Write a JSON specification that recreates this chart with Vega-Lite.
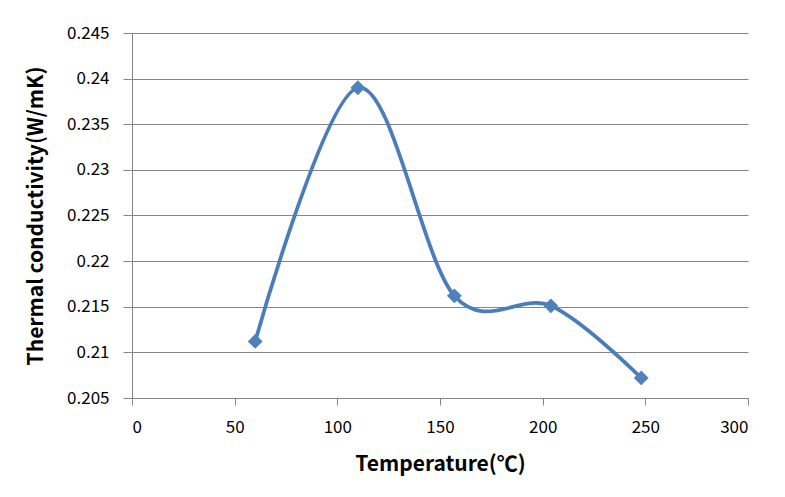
{
  "$schema": "https://vega.github.io/schema/vega-lite/v6.json",
  "width": 616,
  "height": 365,
  "autosize": {"type": "none"},
  "padding": {"left": 132, "top": 33, "right": 37, "bottom": 99},
  "background": "white",
  "config": {
    "view": {"stroke": null},
    "font": "Noto Sans CJK KR"
  },
  "data": {
    "values": [
      {"temperature": 60, "conductivity": 0.2112},
      {"temperature": 110, "conductivity": 0.2390},
      {"temperature": 157, "conductivity": 0.2162},
      {"temperature": 204, "conductivity": 0.2151},
      {"temperature": 248, "conductivity": 0.2072}
    ]
  },
  "encoding": {
    "x": {
      "field": "temperature",
      "type": "quantitative",
      "scale": {"domain": [0, 300], "nice": false, "zero": false},
      "axis": {
        "title": "Temperature(℃)",
        "values": [0, 50, 100, 150, 200, 250, 300],
        "grid": false,
        "domainColor": "#868686",
        "tickColor": "#868686",
        "tickSize": 7,
        "labelFontSize": 17,
        "labelColor": "#000000",
        "labelPadding": 14,
        "titleFontSize": 21,
        "titleFontWeight": "bold",
        "titleColor": "#000000",
        "titlePadding": 18
      }
    },
    "y": {
      "field": "conductivity",
      "type": "quantitative",
      "scale": {"domain": [0.205, 0.245], "nice": false, "zero": false},
      "axis": {
        "title": "Thermal conductivity(W/mK)",
        "values": [0.205, 0.21, 0.215, 0.22, 0.225, 0.23, 0.235, 0.24, 0.245],
        "labelExpr": "format(datum.value, '.3~f')",
        "grid": true,
        "gridColor": "#868686",
        "gridWidth": 1,
        "domainColor": "#868686",
        "tickColor": "#868686",
        "tickSize": 9,
        "labelFontSize": 17,
        "labelColor": "#000000",
        "labelPadding": 14,
        "titleFontSize": 21,
        "titleFontWeight": "bold",
        "titleColor": "#000000",
        "titlePadding": 20
      }
    }
  },
  "layer": [
    {
      "mark": {"type": "line", "interpolate": "cardinal", "color": "#4A7EBB", "strokeWidth": 3.75}
    },
    {
      "mark": {"type": "point", "shape": "diamond", "filled": true, "size": 220, "color": "#4F81BD", "opacity": 1}
    }
  ]
}
